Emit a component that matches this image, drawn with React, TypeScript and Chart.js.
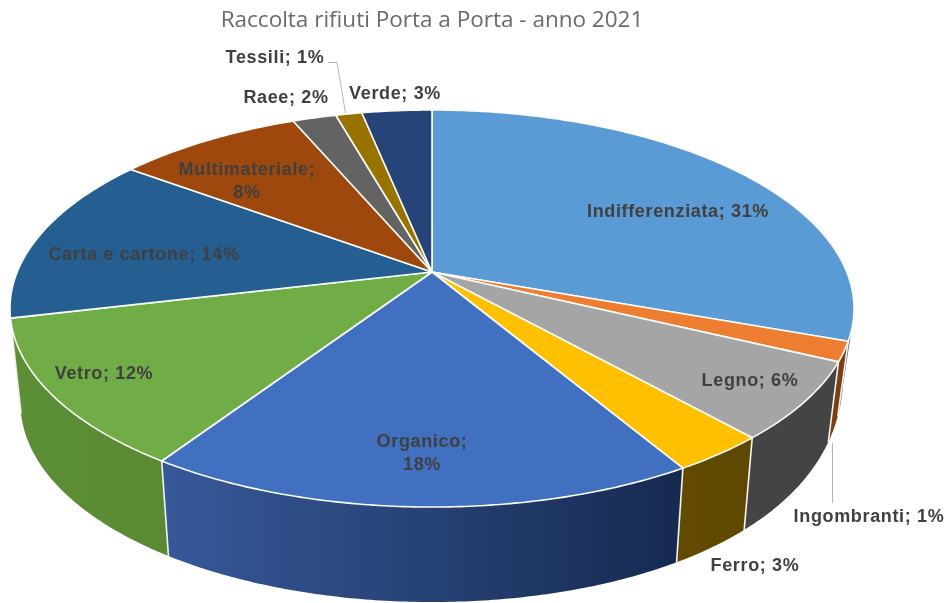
import React, { useEffect, useRef } from "react";
import { Chart, registerables } from "chart.js";

Chart.register(...registerables);

const categories = ["Indifferenziata", "Ingombranti", "Legno", "Ferro", "Organico", "Vetro", "Carta e cartone", "Multimateriale", "Raee", "Tessili", "Verde"];
const shares = [30.5, 1.6, 6.3, 3.1, 17.8, 12, 13.8, 8.5, 2, 1.2, 3.2];
const shownPercent = [31, 1, 6, 3, 18, 12, 14, 8, 2, 1, 3];
const topColors = ["#5b9bd5", "#ed7d31", "#a5a5a5", "#ffc000", "#4070bf", "#70ad47", "#255e91", "#9e480e", "#636363", "#997300", "#264478"];
const wallLeft = ["#2f6090", "#7c3f14", "#444444", "#624b00", "#37599a", "#5c8f36", "#1b3f63", "#6a300a", "#444", "#665000", "#1a2e52"];
const wallRight = ["#2f6090", "#7c3f14", "#444444", "#5e4800", "#162a50", "#5a8a33", "#1b3f63", "#6a300a", "#444", "#665000", "#1a2e52"];

// label layout: centre of each text block, one entry per category
const labelCentres: [number, number][] = [[678, 212], [869, 517], [750, 381], [755, 566], [422, 453], [104, 374], [144, 255], [247, 181], [286, 98], [275, 58], [395, 94]];
const twoLineLabels = ["Organico", "Multimateriale"];

// perspective of the disc
const CX = 432, CY = 272, K = 0.184, AX = 414.8, AY = 191.8;
const DEPTH = 95, RIGHT_TAPER = 46, BASE_SHRINK = 0.975;
const WALL_FROM = (103 * Math.PI) / 180, WALL_TO = (259 * Math.PI) / 180;

const topPoint = (t: number): [number, number] => {
  const u = Math.sin(t), v = Math.cos(t), w = 1 + K * v;
  return [CX + (AX * u) / w, CY - (AY * v) / w];
};
const basePoint = (t: number): [number, number] => {
  const [x, y] = topPoint(t);
  const rest = 1 - Math.abs(Math.cos(t));
  const depth = DEPTH - (Math.sin(t) > 0 ? RIGHT_TAPER * rest * rest : 0);
  return [CX + (x - CX) * BASE_SHRINK, y + depth];
};
const samples = (a: number, b: number) => {
  const n = Math.max(2, Math.ceil(Math.abs(b - a) / 0.01));
  return Array.from({ length: n + 1 }, (_, i) => a + ((b - a) * i) / n);
};

const pie3d = {
  id: "pie3d",
  beforeDatasetDraw(chart: any) {
    const ctx = chart.ctx as CanvasRenderingContext2D;
    const arcs = chart.getDatasetMeta(0).data;
    const colours = chart.data.datasets[0].backgroundColor as string[];
    ctx.save();
    ctx.lineJoin = "round";

    // side walls
    arcs.forEach((arc: any, i: number) => {
      const a = Math.max(arc.startAngle + Math.PI / 2, WALL_FROM);
      const b = Math.min(arc.endAngle + Math.PI / 2, WALL_TO);
      if (b <= a) return;
      const ts = samples(a, b);
      const g = ctx.createLinearGradient(topPoint(a)[0], 0, topPoint(b)[0], 0);
      g.addColorStop(0, wallRight[i]);
      g.addColorStop(1, wallLeft[i]);
      ctx.beginPath();
      ts.forEach((t, j) => { const p = topPoint(t); j ? ctx.lineTo(p[0], p[1]) : ctx.moveTo(p[0], p[1]); });
      [...ts].reverse().forEach((t) => { const p = basePoint(t); ctx.lineTo(p[0], p[1]); });
      ctx.closePath();
      ctx.fillStyle = g;
      ctx.fill();
    });
    // wall separators
    ctx.strokeStyle = "#f4f4ee";
    ctx.lineWidth = 1.6;
    arcs.forEach((arc: any) => {
      const t = arc.endAngle + Math.PI / 2;
      if (t <= WALL_FROM || t >= WALL_TO) return;
      const p = topPoint(t), q = basePoint(t);
      ctx.beginPath();
      ctx.moveTo(p[0], p[1]);
      ctx.lineTo(q[0], q[1]);
      ctx.stroke();
    });

    // top face
    arcs.forEach((arc: any, i: number) => {
      const ts = samples(arc.startAngle + Math.PI / 2, arc.endAngle + Math.PI / 2);
      ctx.beginPath();
      ctx.moveTo(CX, CY);
      ts.forEach((t) => { const p = topPoint(t); ctx.lineTo(p[0], p[1]); });
      ctx.closePath();
      ctx.fillStyle = colours[i];
      ctx.fill();
      ctx.strokeStyle = "#fbfbf6";
      ctx.lineWidth = 1.6;
      ctx.stroke();
    });

    // leader lines
    ctx.strokeStyle = "#b5b5b5";
    ctx.lineWidth = 1;
    ctx.beginPath();
    ctx.moveTo(328, 62.5); ctx.lineTo(337, 62.5); ctx.lineTo(345.5, 113);
    ctx.moveTo(832.5, 443); ctx.lineTo(832.5, 503);
    ctx.stroke();

    // data labels
    ctx.fillStyle = "#404040";
    ctx.font = "bold 18px 'Liberation Sans'";
    (ctx as any).letterSpacing = "0.65px";
    ctx.textAlign = "center";
    ctx.textBaseline = "middle";
    categories.forEach((name, i) => {
      const [x, y] = labelCentres[i];
      if (twoLineLabels.includes(name)) {
        ctx.fillText(`${name};`, x, y - 11);
        ctx.fillText(`${shownPercent[i]}%`, x, y + 12);
      } else {
        ctx.fillText(`${name}; ${shownPercent[i]}%`, x, y);
      }
    });
    ctx.restore();
    return false;
  },
};

export default function App() {
  const ref = useRef<HTMLCanvasElement>(null);
  useEffect(() => {
    document.body.style.margin = "0";
    document.body.style.background = "#ffffff";
    const chart = new Chart(ref.current!, {
      type: "pie",
      data: { labels: categories, datasets: [{ data: shares, backgroundColor: topColors, borderWidth: 0 }] },
      options: {
        responsive: false,
        animation: false,
        layout: { padding: { right: 84 } },
        plugins: {
          legend: { display: false },
          tooltip: { enabled: false },
          title: {
            display: true,
            fullSize: false,
            text: "Raccolta rifiuti Porta a Porta - anno 2021",
            color: "#6a6a6a",
            font: { family: "'Open Sans'", size: 22.5, weight: "normal" },
            padding: { top: 7, bottom: 6 },
          },
        },
      },
      plugins: [pie3d],
    } as any);
    return () => chart.destroy();
  }, []);
  return <canvas ref={ref} width={948} height={603} style={{ display: "block", width: 948, height: 603 }} />;
}
